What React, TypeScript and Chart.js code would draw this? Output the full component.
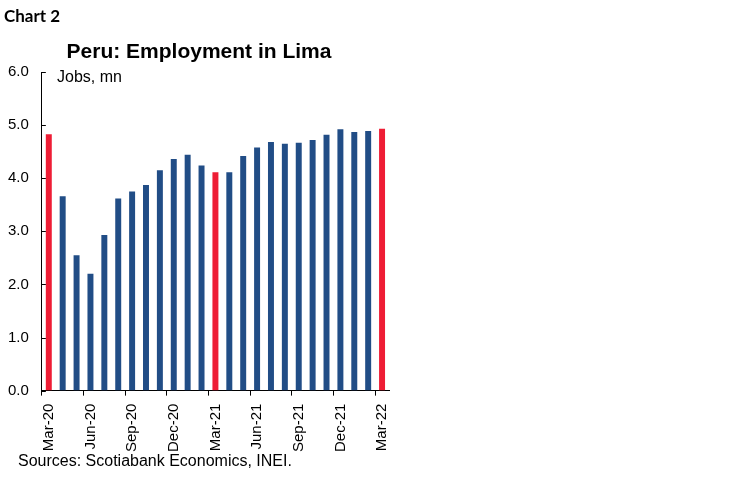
import React, { useEffect, useRef } from "react";
import { Chart, registerables } from "chart.js";

Chart.register(...registerables);

const categories = [
  "Mar-20", "Apr-20", "May-20", "Jun-20", "Jul-20", "Aug-20", "Sep-20", "Oct-20", "Nov-20", "Dec-20",
  "Jan-21", "Feb-21", "Mar-21", "Apr-21", "May-21", "Jun-21", "Jul-21", "Aug-21", "Sep-21", "Oct-21",
  "Nov-21", "Dec-21", "Jan-22", "Feb-22", "Mar-22",
];
const jobs = [
  4.83, 3.66, 2.55, 2.2, 2.93, 3.62, 3.75, 3.87, 4.15, 4.36,
  4.44, 4.24, 4.11, 4.11, 4.42, 4.58, 4.68, 4.65, 4.67, 4.72,
  4.82, 4.92, 4.87, 4.89, 4.93,
];
const highlighted = ["Mar-20", "Mar-21", "Mar-22"];
const yTicks = [0, 1, 2, 3, 4, 5, 6];

const NAVY = "#214d86";
const RED = "#ee1d35";
const FONT = "'Liberation Sans', Arial, sans-serif";

const innerYTicks = {
  id: "innerYTicks",
  afterDraw(chart: any) {
    const { ctx, chartArea, scales } = chart;
    const y = scales.y;
    ctx.save();
    ctx.strokeStyle = "#000";
    ctx.lineWidth = 1;
    yTicks.forEach((v) => {
      const py = Math.round(y.getPixelForValue(v)) + 0.5;
      ctx.beginPath();
      ctx.moveTo(chartArea.left, py);
      ctx.lineTo(chartArea.left + 4, py);
      ctx.stroke();
    });
    ctx.restore();
  },
};

export default function App() {
  const ref = useRef<HTMLCanvasElement>(null);

  useEffect(() => {
    document.body.style.margin = "0";
    const chart = new Chart(ref.current!, {
      type: "bar",
      data: {
        labels: categories,
        datasets: [
          {
            data: jobs,
            backgroundColor: categories.map((c) => (highlighted.includes(c) ? RED : NAVY)),
            categoryPercentage: 1,
            barPercentage: 0.43,
          },
        ],
      },
      options: {
        responsive: false,
        animation: false,
        layout: { padding: { left: -5, top: 72, right: 361, bottom: 22 } },
        plugins: {
          legend: { display: false },
          title: { display: false },
          tooltip: { enabled: false },
        },
        scales: {
          x: {
            offset: true,
            grid: {
              offset: true,
              drawOnChartArea: false,
              drawTicks: true,
              tickLength: 5,
              tickColor: (ctx: any) => (ctx.index % 3 === 0 ? "#000" : "rgba(0,0,0,0)"),
            },
            border: { display: true, color: "#000", width: 1 },
            ticks: {
              autoSkip: false,
              maxRotation: 90,
              minRotation: 90,
              padding: 8,
              color: "#000",
              font: { family: FONT, size: 15 },
              callback: (_v: any, i: number) => (i % 3 === 0 ? categories[i] : ""),
            },
          },
          y: {
            min: 0,
            max: 6,
            afterBuildTicks: (axis: any) => {
              axis.ticks = yTicks.map((v) => ({ value: v }));
            },
            grid: { drawOnChartArea: false, drawTicks: false },
            border: { display: true, color: "#000", width: 1 },
            ticks: {
              padding: 13,
              color: "#000",
              font: { family: FONT, size: 15 },
              callback: (v: any) => Number(v).toFixed(1),
            },
          },
        },
      },
      plugins: [innerYTicks],
    });
    return () => chart.destroy();
  }, []);

  return (
    <div style={{ position: "relative", width: 750, height: 482, background: "#fff", overflow: "hidden" }}>
      <canvas ref={ref} width={750} height={482} style={{ position: "absolute", left: 0, top: 0 }} />
      <div style={{ position: "absolute", left: 4, top: 5, fontFamily: "Lato, 'Open Sans', sans-serif", fontWeight: 700, fontSize: 17, color: "#000" }}>
        Chart 2
      </div>
      <div style={{ position: "absolute", left: 0, width: 398, top: 39, textAlign: "center", fontFamily: FONT, fontWeight: 700, fontSize: 21, color: "#000" }}>
        Peru: Employment in Lima
      </div>
      <div style={{ position: "absolute", left: 57, top: 68, fontFamily: FONT, fontSize: 16, color: "#000" }}>
        Jobs, mn
      </div>
      <div style={{ position: "absolute", left: 18, top: 452, fontFamily: FONT, fontSize: 16, color: "#000" }}>
        Sources: Scotiabank Economics, INEI.
      </div>
    </div>
  );
}
